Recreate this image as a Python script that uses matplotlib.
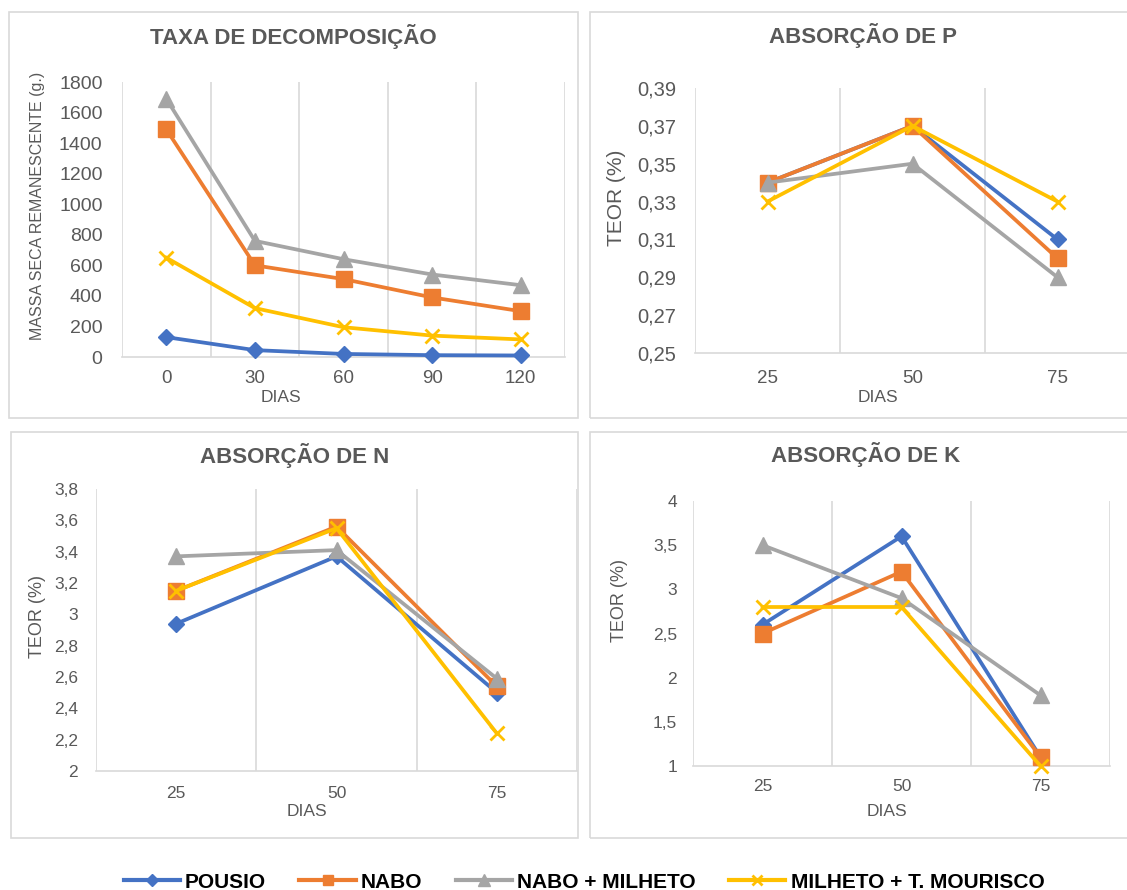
import matplotlib

matplotlib.use("Agg")
import matplotlib.pyplot as plt  # noqa: E402
from matplotlib.lines import Line2D  # noqa: E402
from matplotlib.patches import Rectangle  # noqa: E402
from matplotlib.ticker import FixedLocator, FuncFormatter  # noqa: E402

plt.rcParams["font.family"] = ["Liberation Sans", "DejaVu Sans"]

# ---- dados ----
dias_decomp = ["0", "30", "60", "90", "120"]
dias_abs = ["25", "50", "75"]

series_names = ["POUSIO", "NABO", "NABO + MILHETO", "MILHETO + T. MOURISCO"]

decomp_pousio = [130, 45, 20, 12, 10]
decomp_nabo = [1490, 600, 510, 390, 300]
decomp_nabo_milheto = [1690, 760, 640, 540, 470]
decomp_milheto_tm = [650, 320, 195, 140, 115]

p_pousio = [0.34, 0.37, 0.31]
p_nabo = [0.34, 0.37, 0.30]
p_nabo_milheto = [0.34, 0.35, 0.29]
p_milheto_tm = [0.33, 0.37, 0.33]

n_pousio = [2.94, 3.37, 2.50]
n_nabo = [3.15, 3.56, 2.54]
n_nabo_milheto = [3.37, 3.41, 2.59]
n_milheto_tm = [3.15, 3.55, 2.24]

k_pousio = [2.6, 3.6, 1.1]
k_nabo = [2.5, 3.2, 1.1]
k_nabo_milheto = [3.5, 2.9, 1.8]
k_milheto_tm = [2.8, 2.8, 1.0]

yticks_decomp = [0, 200, 400, 600, 800, 1000, 1200, 1400, 1600, 1800]
yticks_p = [0.25, 0.27, 0.29, 0.31, 0.33, 0.35, 0.37, 0.39]
yticks_n = [2.0, 2.2, 2.4, 2.6, 2.8, 3.0, 3.2, 3.4, 3.6, 3.8]
yticks_k = [1.0, 1.5, 2.0, 2.5, 3.0, 3.5, 4.0]

# ---- estilo ----
W, H = 1127, 890
TXT = "#595959"
GRID = "#D9D9D9"
COLORS = ["#4472C4", "#ED7D31", "#A5A5A5", "#FFC000"]
MARKERS = [("D", 8.5), ("s", 11), ("^", 11.5), ("x", 10.5)]

fig = plt.figure(figsize=(W / 100, H / 100), dpi=100)


def virgula(fmt):
    return FuncFormatter(lambda v, _: (fmt % v).replace(".", ","))


def frame(l, t, r, b):
    fig.patches.append(Rectangle((l / W, 1 - b / H), (r - l) / W, (b - t) / H,
                                 transform=fig.transFigure, fill=False, ec=GRID, lw=1.2))


def panel(rect, cats, data, title, yticks, fmt, ylabel, lay):
    l, t, r, b = rect
    ax = fig.add_axes([l / W, 1 - b / H, (r - l) / W, (b - t) / H])
    fx = lambda px: (px - l) / (r - l)  # noqa: E731
    fy = lambda py: (b - py) / (b - t)  # noqa: E731

    for vals, c, (m, ms) in zip(data, COLORS, MARKERS):
        ax.plot(cats, vals, color=c, lw=2.7, marker=m, ms=ms, mfc=c, mec=c,
                mew=2 if m == "x" else 1, solid_joinstyle="round", clip_on=False, zorder=3)

    ax.set_xlim(-0.5, len(cats) - 0.5)
    ax.set_ylim(yticks[0], yticks[-1])
    ax.set_yticks(yticks)
    ax.yaxis.set_major_formatter(virgula(fmt))
    ax.xaxis.set_minor_locator(FixedLocator([i - 0.5 for i in range(len(cats) + 1)]))
    ax.grid(axis="x", which="minor", color=GRID, lw=1.2)
    ax.grid(axis="x", which="major", visible=False)
    for s in ("top", "right", "left"):
        ax.spines[s].set_visible(False)
    ax.spines["bottom"].set_color(GRID)
    ax.spines["bottom"].set_linewidth(1.2)
    ax.tick_params(axis="both", which="both", length=0, colors=TXT)
    ax.tick_params(axis="x", labelsize=lay["xt"], pad=lay["xpad"])
    ax.tick_params(axis="y", labelsize=lay["yt"], pad=lay["ypad"])

    ax.set_title(title, x=fx(lay["title"][0]), y=fy(lay["title"][1]), va="center",
                 fontsize=16, fontweight="bold", color=TXT)
    ax.set_ylabel(ylabel, fontsize=lay["yl"], color=TXT)
    ax.yaxis.label.set_va("center")
    ax.yaxis.set_label_coords(fx(lay["ylab"][0]), fy(lay["ylab"][1]))
    ax.set_xlabel("DIAS", fontsize=12.5, color=TXT)
    ax.xaxis.label.set_va("center")
    ax.xaxis.set_label_coords(fx(lay["xlab"][0]), fy(lay["xlab"][1]))
    ax.set_facecolor("none")
    return ax


frame(9, 12, 578, 418)
frame(590, 12, 1140, 418)
frame(11, 432, 578, 838)
frame(590, 432, 1140, 838)

panel((122, 82, 565, 357), dias_decomp,
      [decomp_pousio, decomp_nabo, decomp_nabo_milheto, decomp_milheto_tm],
      "TAXA DE DECOMPOSIÇÃO", yticks_decomp, "%d", "MASSA SECA REMANESCENTE (g.)",
      dict(xt=13.5, xpad=9, yt=14, ypad=14, yl=11.5, title=(293, 45), ylab=(38, 206), xlab=(281, 397)))

panel((695, 88, 1130, 353), dias_abs,
      [p_pousio, p_nabo, p_nabo_milheto, p_milheto_tm],
      "ABSORÇÃO DE P", yticks_p, "%.2f", "TEOR (%)",
      dict(xt=13.5, xpad=12, yt=14.5, ypad=13.5, yl=15, title=(863, 44), ylab=(616, 198), xlab=(878, 397)))

panel((96, 489, 577, 771), dias_abs,
      [n_pousio, n_nabo, n_nabo_milheto, n_milheto_tm],
      "ABSORÇÃO DE N", yticks_n, "%g", "TEOR (%)",
      dict(xt=12.5, xpad=10.5, yt=12.5, ypad=13, yl=13, title=(295, 464), ylab=(38, 617), xlab=(307, 812)))

panel((693, 501, 1110, 766), dias_abs,
      [k_pousio, k_nabo, k_nabo_milheto, k_milheto_tm],
      "ABSORÇÃO DE K", yticks_k, "%g", "TEOR (%)",
      dict(xt=12.5, xpad=9.5, yt=12.5, ypad=11.5, yl=13, title=(866, 463), ylab=(619, 600), xlab=(887, 811)))

# legenda comum
handles = [Line2D([], [], color=c, lw=3, marker=m, ms=ms * 0.7, mfc=c, mec=c, mew=2 if m == "x" else 1)
           for c, (m, ms) in zip(COLORS, MARKERS)]
fig.legend(handles, series_names, loc="center", bbox_to_anchor=(584 / W, 1 - 882 / H), ncol=4,
           frameon=False, handlelength=2.7, handletextpad=0.25, columnspacing=1.6,
           prop=dict(family=["Liberation Sans Narrow", "Liberation Sans"], weight="bold", size=15))

fig.savefig("out.png", dpi=100)
